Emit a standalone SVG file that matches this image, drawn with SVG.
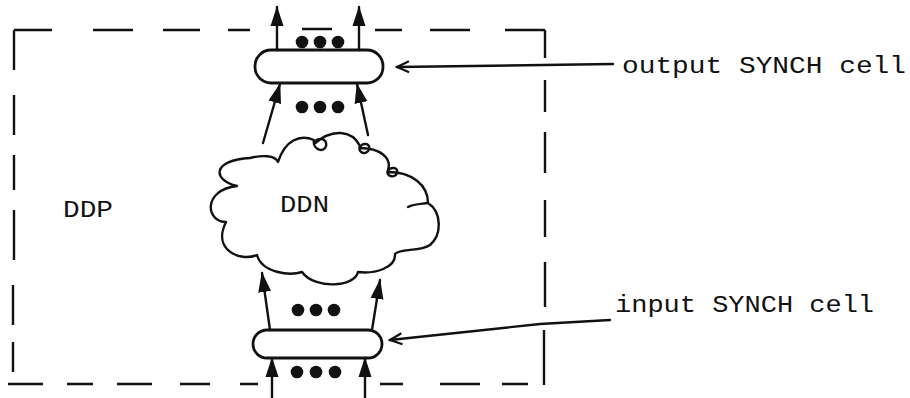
<svg xmlns="http://www.w3.org/2000/svg" width="910" height="398" viewBox="0 0 910 398">
  <style>
    .ln { stroke: #111; stroke-width: 2.4; fill: none; stroke-linecap: round; stroke-linejoin: round; }
    .dash { stroke: #111; stroke-width: 2.4; fill: none; }
    .cell { stroke: #111; stroke-width: 2.8; fill: #fff; }
    .dot { fill: #111; }
    .txt { font-family: "Liberation Mono", "DejaVu Sans Mono", monospace; font-size: 24px; fill: #111; }
  </style>
  <defs>
    <marker id="head" viewBox="0 0 20 14" refX="19" refY="7" markerWidth="20" markerHeight="14" markerUnits="userSpaceOnUse" orient="auto">
      <path d="M0,0.5 L20,7 L0,13.5 Z" fill="#111"/>
    </marker>
    <marker id="open" viewBox="0 0 16 14" refX="14" refY="7" markerWidth="16" markerHeight="14" markerUnits="userSpaceOnUse" orient="auto">
      <path d="M2,1.5 L14,7 L2,12.5" fill="none" stroke="#111" stroke-width="2.2"/>
    </marker>
  </defs>
  <rect width="910" height="398" fill="#fff"/>

  <!-- DDP boundary: hand-drawn dashed rectangle -->
  <g id="ddp">
    <path class="dash" d="M14,30 H52 M93,30 H133 M163,30 H200 M228,30 H250 M302,29 H332 M375,30 H402 M430,30 H470 M505,30 H545"/>
    <path class="dash" d="M545,30 V58 M545,80 V112 M545,132 V173 M545,200 V237 M545,262 V307 M544,330 V385"/>
    <path class="dash" d="M8,384 H43 M67,384 H93 M117,384 H152 M180,384 H210 M240,384 H258 M380,384 H403 M440,384 H480 M502,384 H528"/>
    <path class="dash" d="M14,30 V70 M14,95 V135 M14,155 V190 M14,210 V260 M13,285 V325 M13,342 V372"/>
    <text class="txt" x="63" y="217" textLength="50" lengthAdjust="spacingAndGlyphs">DDP</text>
  </g>

  <!-- DDN: the cloud, with small curls hanging inside its top edge -->
  <g id="ddn">
    <path class="ln" fill="#fff" d="M278,162
      C285,140 300,134 314,140
      c-2,9 10,14 12,6 c2,-8 -10,-10 -12,-2
      C332,128 352,130 360,146
      c-3,7 7,10 9,3 c2,-6 -8,-7 -9,-1
      C380,148 392,158 388,170
      c-3,6 7,9 9,3 c2,-6 -8,-7 -9,-1
      C412,172 428,185 428,203
      C442,212 442,235 430,245
      C420,252 400,248 395,254
      C396,268 375,274 358,272
      C355,287 315,290 302,272
      C290,276 262,273 257,255
      C240,262 212,250 226,222
      C206,222 202,190 237,186
      C212,180 212,160 250,158
      C262,155 275,155 278,162 Z"/>
    <path class="ln" d="M428,203 C422,204 414,204 408,207"/>
    <text class="txt" x="280" y="212" textLength="49" lengthAdjust="spacingAndGlyphs">DDN</text>
  </g>

  <!-- output SYNCH cell -->
  <g id="output-cell">
    <rect class="cell" x="255" y="50" width="128" height="33" rx="16"/>
    <circle class="dot" cx="302" cy="42" r="6.3"/>
    <circle class="dot" cx="320" cy="42" r="6.3"/>
    <circle class="dot" cx="338" cy="42" r="6.3"/>
    <circle class="dot" cx="302" cy="107" r="6.3"/>
    <circle class="dot" cx="320" cy="107" r="6.3"/>
    <circle class="dot" cx="338" cy="107" r="6.3"/>
    <text class="txt" x="622" y="73" textLength="284" lengthAdjust="spacingAndGlyphs">output SYNCH cell</text>
  </g>

  <!-- input SYNCH cell -->
  <g id="input-cell">
    <rect class="cell" x="253" y="330" width="129" height="28" rx="14"/>
    <circle class="dot" cx="298" cy="310" r="6.3"/>
    <circle class="dot" cx="316" cy="310" r="6.3"/>
    <circle class="dot" cx="334" cy="310" r="6.3"/>
    <circle class="dot" cx="297" cy="372" r="6.3"/>
    <circle class="dot" cx="316" cy="372" r="6.3"/>
    <circle class="dot" cx="335" cy="372" r="6.3"/>
    <text class="txt" x="615" y="312" textLength="259" lengthAdjust="spacingAndGlyphs">input SYNCH cell</text>
  </g>

  <!-- connectors -->
  <g id="connectors">
    <path class="ln" marker-end="url(#head)" d="M277,50 L277,7"/>
    <path class="ln" marker-end="url(#head)" d="M359,50 L359,7"/>
    <path class="ln" marker-end="url(#head)" d="M263,143 L280,84"/>
    <path class="ln" marker-end="url(#head)" d="M368,135 L357,84"/>
    <path class="ln" marker-end="url(#head)" d="M270,330 L262,273"/>
    <path class="ln" marker-end="url(#head)" d="M372,330 L380,280"/>
    <path class="ln" marker-end="url(#head)" d="M272,398 L272,358"/>
    <path class="ln" marker-end="url(#head)" d="M365,398 L365,358"/>
    <path class="ln" marker-end="url(#open)" d="M613,64 L397,67"/>
    <path class="ln" marker-end="url(#open)" d="M610,320 L540,324 L390,340"/>
  </g>
</svg>
